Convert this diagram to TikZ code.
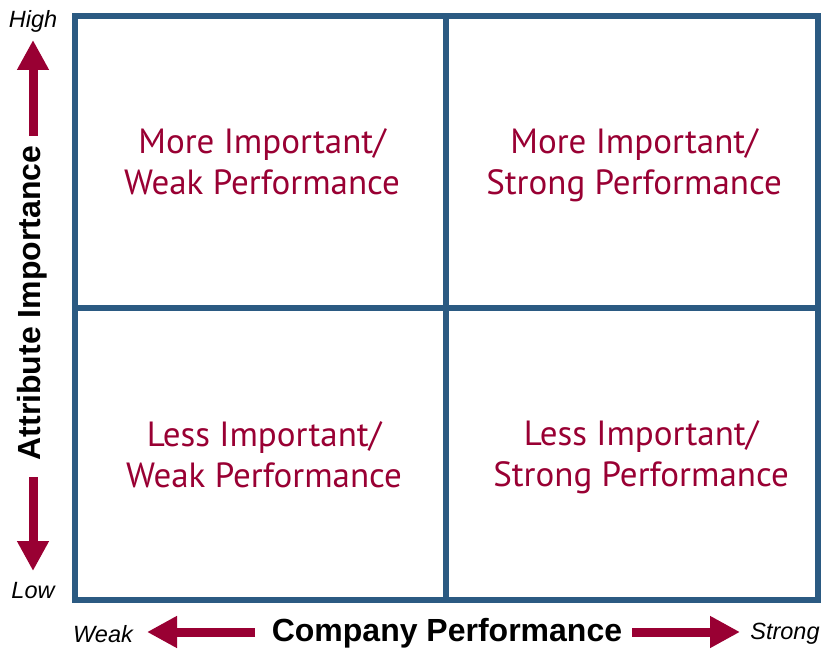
\documentclass[tikz,border=0pt]{standalone}
\usepackage{fontspec}
\setmainfont{Liberation Sans}
\newfontfamily\quadfont{PT Sans}
\usetikzlibrary{arrows.meta}
\definecolor{gridblue}{HTML}{2B5A82}
\definecolor{wine}{HTML}{990033}
\begin{document}
\begin{tikzpicture}[x=1pt,y=-1pt,
  quadtext/.style={text=wine,font=\quadfont\fontsize{35}{41}\selectfont,align=center},
  axislabel/.style={font=\bfseries\fontsize{32}{36}\selectfont},
  endlabel/.style={font=\itshape\fontsize{23.5}{26}\selectfont},
  axisarrow/.style={wine,line width=9pt,-{Triangle[width=30pt,length=30pt]}}]
\useasboundingbox (0,0) rectangle (822,652);
% grid
\draw[gridblue,line width=5.5pt] (75,16) rectangle (818,600);
\draw[gridblue,line width=5.5pt] (446,16) -- (446,600);
\draw[gridblue,line width=5.5pt] (75,308) -- (818,308);
% quadrant labels
\node[quadtext] (ul) at (262,162) {More Important/\\Weak Performance};
\node[quadtext] (ur) at (634,165) {More Important/\\Strong Performance};
\node[quadtext] (ll) at (264,455) {Less Important/\\Weak Performance};
\node[quadtext] (lr) at (641,457) {Less Important/\\Strong Performance};
% vertical axis
\node[endlabel] (high) at (33,21) {High};
\node[endlabel] (low) at (33,591) {Low};
\node[axislabel,rotate=90] (vlab) at (32,303) {Attribute Importance};
\coordinate (vup) at (33,136);
\coordinate (vdn) at (33,477);
\draw[axisarrow] (vup) -- (33,40);
\draw[axisarrow] (vdn) -- (33,571);
% horizontal axis
\node[endlabel] (weak) at (103,634) {Weak};
\node[endlabel] (strong) at (785,634) {Strong};
\node[axislabel] (hlab) at (447,633) {Company Performance};
\coordinate (hl) at (255,632);
\coordinate (hr) at (632,632);
\draw[axisarrow] (hl) -- (147,632);
\draw[axisarrow] (hr) -- (740,632);
\end{tikzpicture}
\end{document}
